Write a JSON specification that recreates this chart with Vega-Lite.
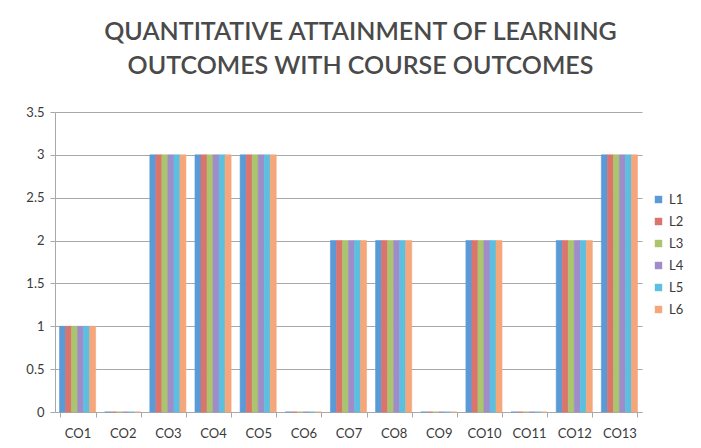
{
  "$schema": "https://vega.github.io/schema/vega-lite/v6.json",
  "width": 587,
  "height": 300,
  "autosize": {"type": "none"},
  "padding": {"left": 55, "top": 112, "right": 59, "bottom": 36},
  "background": "white",
  "title": {
    "text": ["QUANTITATIVE ATTAINMENT OF LEARNING", "OUTCOMES WITH COURSE OUTCOMES"],
    "font": "Lato",
    "fontSize": 25,
    "fontWeight": 600,
    "color": "#4a4a4a",
    "lineHeight": 34,
    "anchor": "middle",
    "dx": 12,
    "offset": 27
  },
  "config": {
    "view": {"stroke": null},
    "axis": {"labelFont": "Lato", "labelColor": "#3a3a3a", "labelFontSize": 13}
  },
  "data": {
    "values": [
      {"co": "CO1", "l": "L1", "v": 1}, {"co": "CO1", "l": "L2", "v": 1}, {"co": "CO1", "l": "L3", "v": 1}, {"co": "CO1", "l": "L4", "v": 1}, {"co": "CO1", "l": "L5", "v": 1}, {"co": "CO1", "l": "L6", "v": 1},
      {"co": "CO2", "l": "L1", "v": 0}, {"co": "CO2", "l": "L2", "v": 0}, {"co": "CO2", "l": "L3", "v": 0}, {"co": "CO2", "l": "L4", "v": 0}, {"co": "CO2", "l": "L5", "v": 0}, {"co": "CO2", "l": "L6", "v": 0},
      {"co": "CO3", "l": "L1", "v": 3}, {"co": "CO3", "l": "L2", "v": 3}, {"co": "CO3", "l": "L3", "v": 3}, {"co": "CO3", "l": "L4", "v": 3}, {"co": "CO3", "l": "L5", "v": 3}, {"co": "CO3", "l": "L6", "v": 3},
      {"co": "CO4", "l": "L1", "v": 3}, {"co": "CO4", "l": "L2", "v": 3}, {"co": "CO4", "l": "L3", "v": 3}, {"co": "CO4", "l": "L4", "v": 3}, {"co": "CO4", "l": "L5", "v": 3}, {"co": "CO4", "l": "L6", "v": 3},
      {"co": "CO5", "l": "L1", "v": 3}, {"co": "CO5", "l": "L2", "v": 3}, {"co": "CO5", "l": "L3", "v": 3}, {"co": "CO5", "l": "L4", "v": 3}, {"co": "CO5", "l": "L5", "v": 3}, {"co": "CO5", "l": "L6", "v": 3},
      {"co": "CO6", "l": "L1", "v": 0}, {"co": "CO6", "l": "L2", "v": 0}, {"co": "CO6", "l": "L3", "v": 0}, {"co": "CO6", "l": "L4", "v": 0}, {"co": "CO6", "l": "L5", "v": 0}, {"co": "CO6", "l": "L6", "v": 0},
      {"co": "CO7", "l": "L1", "v": 2}, {"co": "CO7", "l": "L2", "v": 2}, {"co": "CO7", "l": "L3", "v": 2}, {"co": "CO7", "l": "L4", "v": 2}, {"co": "CO7", "l": "L5", "v": 2}, {"co": "CO7", "l": "L6", "v": 2},
      {"co": "CO8", "l": "L1", "v": 2}, {"co": "CO8", "l": "L2", "v": 2}, {"co": "CO8", "l": "L3", "v": 2}, {"co": "CO8", "l": "L4", "v": 2}, {"co": "CO8", "l": "L5", "v": 2}, {"co": "CO8", "l": "L6", "v": 2},
      {"co": "CO9", "l": "L1", "v": 0}, {"co": "CO9", "l": "L2", "v": 0}, {"co": "CO9", "l": "L3", "v": 0}, {"co": "CO9", "l": "L4", "v": 0}, {"co": "CO9", "l": "L5", "v": 0}, {"co": "CO9", "l": "L6", "v": 0},
      {"co": "CO10", "l": "L1", "v": 2}, {"co": "CO10", "l": "L2", "v": 2}, {"co": "CO10", "l": "L3", "v": 2}, {"co": "CO10", "l": "L4", "v": 2}, {"co": "CO10", "l": "L5", "v": 2}, {"co": "CO10", "l": "L6", "v": 2},
      {"co": "CO11", "l": "L1", "v": 0}, {"co": "CO11", "l": "L2", "v": 0}, {"co": "CO11", "l": "L3", "v": 0}, {"co": "CO11", "l": "L4", "v": 0}, {"co": "CO11", "l": "L5", "v": 0}, {"co": "CO11", "l": "L6", "v": 0},
      {"co": "CO12", "l": "L1", "v": 2}, {"co": "CO12", "l": "L2", "v": 2}, {"co": "CO12", "l": "L3", "v": 2}, {"co": "CO12", "l": "L4", "v": 2}, {"co": "CO12", "l": "L5", "v": 2}, {"co": "CO12", "l": "L6", "v": 2},
      {"co": "CO13", "l": "L1", "v": 3}, {"co": "CO13", "l": "L2", "v": 3}, {"co": "CO13", "l": "L3", "v": 3}, {"co": "CO13", "l": "L4", "v": 3}, {"co": "CO13", "l": "L5", "v": 3}, {"co": "CO13", "l": "L6", "v": 3}
    ]
  },
  "mark": {"type": "bar", "strokeWidth": 0.6},
  "encoding": {
    "x": {
      "field": "co", "type": "nominal", "sort": null,
      "scale": {"paddingInner": 0.2, "paddingOuter": 0.1, "round": false},
      "axis": {"title": null, "labelAngle": 0, "ticks": true, "tickBand": "extent", "tickSize": 5, "tickColor": "#a8a8a8", "domainColor": "#a8a8a8", "labelPadding": 10}
    },
    "xOffset": {"field": "l", "type": "nominal", "sort": null, "scale": {"paddingInner": 0, "paddingOuter": 0, "round": false}},
    "y": {
      "field": "v", "type": "quantitative",
      "scale": {"domain": [0, 3.5], "nice": false},
      "axis": {"title": null, "values": [0, 0.5, 1, 1.5, 2, 2.5, 3, 3.5], "format": "~g", "gridColor": "#a8a8a8", "domainColor": "#a8a8a8", "tickColor": "#a8a8a8", "tickSize": 5, "labelPadding": 6}
    },
    "color": {
      "field": "l", "type": "nominal",
      "scale": {"domain": ["L1", "L2", "L3", "L4", "L5", "L6"], "range": ["#5a9ad6", "#dc746e", "#aac56e", "#9f8cc9", "#5cbfe0", "#f5a77b"]},
      "legend": {"title": null, "orient": "none", "legendX": 597, "legendY": 81, "symbolType": "square", "symbolSize": 55, "symbolStrokeWidth": 0, "labelFont": "Lato", "labelFontSize": 13, "labelColor": "#3a3a3a", "rowPadding": 8, "labelOffset": 4}
    },
    "stroke": {
      "field": "l", "type": "nominal",
      "scale": {"domain": ["L1", "L2", "L3", "L4", "L5", "L6"], "range": ["#5a9ad6", "#dc746e", "#aac56e", "#9f8cc9", "#5cbfe0", "#f5a77b"]},
      "legend": null
    }
  }
}
